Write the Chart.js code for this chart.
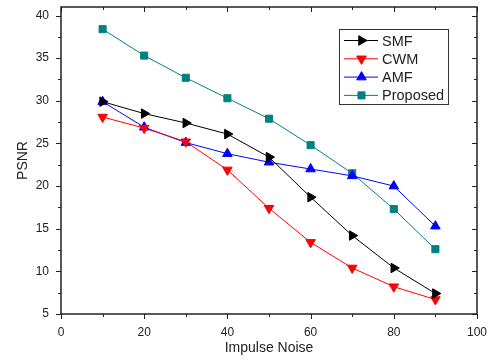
<!DOCTYPE html>
<html>
<head>
<meta charset="utf-8">
<script src="https://cdn.jsdelivr.net/npm/chart.js@4.4.1/dist/chart.umd.min.js"></script>
<style>
  html, body { margin: 0; padding: 0; background: #fff; }
  #wrap { width: 491px; height: 360px; }
</style>
</head>
<body>
<div id="wrap"><canvas id="chart"></canvas></div>
<script>
const noiseLevels = [10, 20, 30, 40, 50, 60, 70, 80, 90];
const smfValues = [29.9, 28.5, 27.4, 26.1, 23.4, 18.7, 14.2, 10.4, 7.4];
const cwmValues = [28.1, 26.8, 25.2, 21.9, 17.4, 13.4, 10.4, 8.2, 6.7];
const amfValues = [29.9, 26.9, 25.1, 23.8, 22.8, 22.0, 21.2, 20.0, 15.3];
const proposedValues = [38.4, 35.3, 32.7, 30.3, 27.9, 24.8, 21.5, 17.3, 12.6];

const xTicks = [0, 10, 20, 30, 40, 50, 60, 70, 80, 90, 100];
const xLabels = [0, 20, 40, 60, 80, 100];
const yTicks = [5, 7.5, 10, 12.5, 15, 17.5, 20, 22.5, 25, 27.5, 30, 32.5, 35, 37.5, 40];
const yLabels = [5, 10, 15, 20, 25, 30, 35, 40];

const FONT = "'Liberation Sans', Arial, sans-serif";
const INK = "#222";

const makeSeries = (label, values, color, style, rotation, radius) => ({
  label,
  data: noiseLevels.map((x, i) => ({ x, y: values[i] })),
  borderColor: color,
  backgroundColor: color,
  borderWidth: 1,
  pointStyle: style,
  rotation,
  pointRadius: radius,
  pointBorderWidth: 1,
  tension: 0,
});

// frame with tick marks on all four sides
const framePlugin = {
  id: "frame",
  afterDatasetsDraw(chart) {
    const { ctx, chartArea: a, scales } = chart;
    ctx.save();
    ctx.strokeStyle = INK;
    ctx.lineWidth = 1;
    xTicks.forEach((v) => {
      const px = Math.round(scales.x.getPixelForValue(v)) + 0.5;
      const len = xLabels.includes(v) ? 5 : 3;
      ctx.beginPath();
      ctx.moveTo(px, a.bottom);
      ctx.lineTo(px, a.bottom + len);
      ctx.moveTo(px, a.top);
      ctx.lineTo(px, a.top + len);
      ctx.stroke();
    });
    yTicks.forEach((v) => {
      const py = Math.round(scales.y.getPixelForValue(v)) + 0.5;
      const len = yLabels.includes(v) ? 5 : 3;
      ctx.beginPath();
      ctx.moveTo(a.left, py);
      ctx.lineTo(a.left - len, py);
      ctx.moveTo(a.right, py);
      ctx.lineTo(a.right - len, py);
      ctx.stroke();
    });
    ctx.lineWidth = 1.5;
    ctx.strokeRect(a.left, a.top, a.right - a.left, a.bottom - a.top);
    ctx.restore();
  },
};

// legend box: line sample with marker, like the original plot
const legendPlugin = {
  id: "boxLegend",
  afterDraw(chart) {
    const { ctx } = chart;
    const box = { x: 339.5, y: 29.5, w: 109, h: 75 };
    ctx.save();
    ctx.fillStyle = "#fff";
    ctx.fillRect(box.x, box.y, box.w, box.h);
    ctx.strokeStyle = "#333";
    ctx.lineWidth = 1;
    ctx.strokeRect(box.x, box.y, box.w, box.h);
    ctx.font = `14.5px ${FONT}`;
    ctx.textBaseline = "middle";
    chart.data.datasets.forEach((ds, i) => {
      const cy = 40.5 + i * 18.3;
      ctx.strokeStyle = ds.borderColor;
      ctx.lineWidth = 1;
      ctx.beginPath();
      ctx.moveTo(344, cy);
      ctx.lineTo(378, cy);
      ctx.stroke();
      ctx.fillStyle = ds.backgroundColor;
      Chart.helpers.drawPoint(ctx, {
        pointStyle: ds.pointStyle,
        rotation: ds.rotation,
        radius: ds.pointRadius,
        borderWidth: 1,
      }, 361.5, cy);
      ctx.fillStyle = INK;
      ctx.fillText(ds.label, 382, cy + 1);
    });
    ctx.restore();
  },
};

new Chart(document.getElementById("chart"), {
  type: "line",
  data: {
    datasets: [
      makeSeries("SMF", smfValues, "#000000", "triangle", 90, 5.5),
      makeSeries("CWM", cwmValues, "#ff0000", "triangle", 180, 5.5),
      makeSeries("AMF", amfValues, "#0000ff", "triangle", 0, 5.5),
      makeSeries("Proposed", proposedValues, "#008080", "rect", 0, 5),
    ],
  },
  options: {
    responsive: true,
    maintainAspectRatio: false,
    animation: false,
    devicePixelRatio: 1,
    layout: { padding: { left: 0, right: 14, top: 7, bottom: 0 } },
    plugins: {
      legend: { display: false },
      tooltip: { enabled: false },
    },
    scales: {
      x: {
        type: "linear",
        min: 0,
        max: 100,
        grid: { display: false },
        border: { display: false },
        afterBuildTicks: (scale) => {
          scale.ticks = xTicks.map((value) => ({ value }));
        },
        afterFit: (scale) => {
          scale.height = 46;
          scale.paddingLeft = 0;
          scale.paddingRight = 0;
        },
        ticks: {
          autoSkip: false,
          maxRotation: 0,
          padding: 3,
          color: INK,
          font: { family: FONT, size: 12 },
          callback: (v) => (xLabels.includes(v) ? String(v) : ""),
        },
        title: {
          display: true,
          text: "Impulse Noise",
          color: INK,
          font: { family: FONT, size: 14 },
          padding: { top: 0, bottom: 3 },
        },
      },
      y: {
        type: "linear",
        min: 5,
        max: 41,
        grid: { display: false },
        border: { display: false },
        afterBuildTicks: (scale) => {
          scale.ticks = yTicks.map((value) => ({ value }));
        },
        afterFit: (scale) => {
          scale.width = 61;
          scale.paddingTop = 0;
          scale.paddingBottom = 0;
        },
        ticks: {
          autoSkip: false,
          padding: 4,
          color: INK,
          font: { family: FONT, size: 12 },
          callback: (v) => (yLabels.includes(v) ? String(v) : ""),
        },
        title: {
          display: true,
          text: "PSNR",
          color: INK,
          font: { family: FONT, size: 14 },
          padding: { top: 15, bottom: 0 },
        },
      },
    },
  },
  plugins: [framePlugin, legendPlugin],
});
</script>
</body>
</html>
